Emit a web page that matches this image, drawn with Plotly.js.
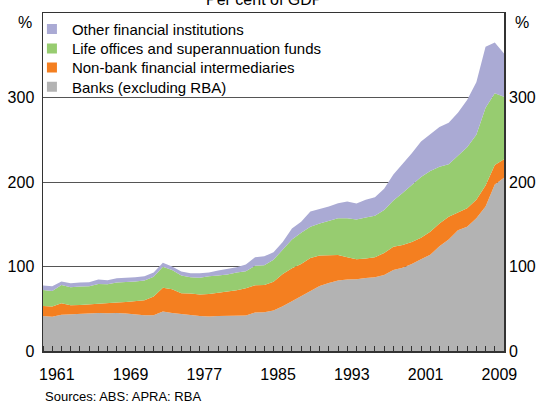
<!DOCTYPE html>
<html>
<head>
<meta charset="utf-8">
<script src="https://cdn.plot.ly/plotly-3.0.1.min.js"></script>
<style>
html,body{margin:0;padding:0;background:#fff;}
#chart{width:540px;height:405px;}
</style>
</head>
<body>
<div id="chart"></div>
<script>
// Years (annual observations)
var years = [1960,1961,1962,1963,1964,1965,1966,1967,1968,1969,
             1970,1971,1972,1973,1974,1975,1976,1977,1978,1979,
             1980,1981,1982,1983,1984,1985,1986,1987,1988,1989,
             1990,1991,1992,1993,1994,1995,1996,1997,1998,1999,
             2000,2001,2002,2003,2004,2005,2006,2007,2008,2009,2010];

// Per cent of GDP, by institution type
var banks = [41.5,40.5,43,43.5,44.5,45,45,44.7,45,44.3,
             43,42.3,42.3,46.6,45,43.5,42.7,41.5,40.7,41.5,
             41.5,41.5,42,45.5,46,48,53,59,65,71,
             77,80.5,83.5,84.5,85,86.5,87.3,90,96,98.5,
             103,108.5,114,124,132,143,147,157,171,197,205];
var nonBank = [11.9,12.1,13.5,10.5,10,10,11,11.8,12.3,13.7,
               16,17.7,22.1,28.4,28,24.9,25.3,25.5,26.9,27.3,
               28.5,30.5,32.3,32.4,32,34,38,39,38,39,
               36,32.5,30,26.5,23.5,23,23.7,26,27.5,27,
               26,25.5,27,27,27,21,22,22,25,23,22];
var lifeSuper = [18.9,18.4,21.5,21.5,21.8,21.7,23.4,22.5,23.7,23.4,
                 23.2,23.4,23.6,24.6,23,20.9,19.4,19.6,20.9,20.5,
                 20.5,20.9,20.2,23.1,23.5,26,29,34,37,37,
                 38,41,43.5,46,47,48.5,49,51,54.5,61.5,
                 67,72,72,67,62,67,72,77,92,85,74];
var otherFin = [5.2,5.7,4.2,4.7,4.7,4.7,5.2,4.8,5.2,5.2,
                5.2,5.1,5,4.9,4,4.7,4.6,5.4,4.5,6,
                6.3,6.3,8,10,10.5,9,9,13,13,18,
                17,17,18,20,19,21,22,25,31,34,
                38,42,43,47,49,51,56,62,72,60,51];

var seriesNames = ['Banks (excluding RBA)','Non-bank financial intermediaries',
                   'Life offices and superannuation funds','Other financial institutions'];
var seriesColors = ['#b3b3b3','#f47f20','#97cc70','#aaaad4'];
var seriesData = [banks, nonBank, lifeSuper, otherFin];

var tickYears = [1961,1969,1977,1985,1993,2001,2009];
var tickPos = tickYears.map(function(y){return y + 0.5;});
var yTicks = [0,100,200,300];

var font = 'Arial, "Liberation Sans", sans-serif';
var traces = [];
for (var i = 0; i < 4; i++) {
  traces.push({
    type:'scatter', x: years, y: seriesData[i], stackgroup:'one',
    mode:'lines', line:{width:0, color:seriesColors[i]}, fillcolor:seriesColors[i],
    name: seriesNames[i], showlegend:false, hoverinfo:'skip'
  });
}
// legend entries (square swatches), one legend per row: banks bottom row, other top row
var legendIds = ['legend','legend2','legend3','legend4'];
for (var j = 3; j >= 0; j--) {
  traces.push({
    type:'scatter', x:[null], y:[null], mode:'markers',
    marker:{symbol:'square', size:10, color:seriesColors[j]},
    name: seriesNames[j], showlegend:true, hoverinfo:'skip', legend: legendIds[j]
  });
}
// right-hand axis carrier
traces.push({type:'scatter', x:[null], y:[null], yaxis:'y2', showlegend:false, hoverinfo:'skip'});

function leg(yv){
  return {x:-0.024, xanchor:'left', y:yv, yanchor:'top',
          font:{family:font, size:15, color:'#000'}, bgcolor:'rgba(0,0,0,0)', borderwidth:0};
}

var layout = {
  width:540, height:405,
  margin:{l:43, r:36, t:13, b:54, pad:0},
  paper_bgcolor:'#fff', plot_bgcolor:'#fff',
  font:{family:font, size:16, color:'#000'},
  showlegend:true,
  legend4: leg(1.0006),
  legend3: leg(0.9429),
  legend2: leg(0.887),
  legend:  leg(0.8299),
  xaxis:{range:[1960,2010], tickvals:tickPos, ticktext:tickYears.map(String),
         ticks:'', showgrid:false, zeroline:false, showline:true, linecolor:'#333', linewidth:1.5,
         mirror:true, ticklabelstandoff:8,
         minor:{ticks:'inside', ticklen:5, tickwidth:1, tickcolor:'#333', dtick:1, tick0:1960, showgrid:false},
         tickfont:{family:font, size:16, color:'#000'}, fixedrange:true},
  yaxis:{range:[0,400], tickvals:yTicks, ticks:'', showgrid:true, gridcolor:'#555', gridwidth:1,
         zeroline:false, showline:true, linecolor:'#333', linewidth:1.5, mirror:true,
         tickfont:{family:font, size:16, color:'#000'}, ticklabelstandoff:4, fixedrange:true},
  yaxis2:{range:[0,400], tickvals:yTicks, overlaying:'y', side:'right', ticks:'', showgrid:false,
          zeroline:false, showline:false, tickfont:{family:font, size:16, color:'#000'},
          ticklabelstandoff:4, fixedrange:true},
  annotations:[
    {text:'Per cent of GDP', xref:'paper', yref:'paper', x:0.48, y:1.041, xanchor:'center', yanchor:'middle',
     showarrow:false, font:{family:font, size:16, color:'#000'}},
    {text:'%', xref:'paper', yref:'paper', x:-0.02, y:0.973, xanchor:'right', yanchor:'middle',
     showarrow:false, font:{family:font, size:16, color:'#000'}},
    {text:'%', xref:'paper', yref:'paper', x:1.02, y:0.973, xanchor:'left', yanchor:'middle',
     showarrow:false, font:{family:font, size:16, color:'#000'}},
    {text:'Sources: ABS: APRA: RBA', xref:'paper', yref:'paper', x:0, y:-0.136, xanchor:'left', yanchor:'middle',
     showarrow:false, font:{family:font, size:13, color:'#000'}}
  ]
};
Plotly.newPlot('chart', traces, layout, {staticPlot:true, displayModeBar:false});
</script>
</body>
</html>
